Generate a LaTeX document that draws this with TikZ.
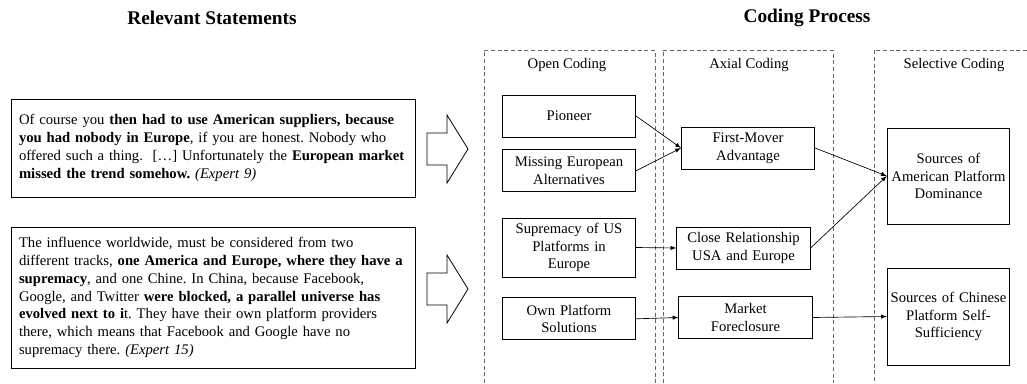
\documentclass[tikz,border=0pt]{standalone}
\usepackage{fontspec}
\setmainfont{Liberation Serif}
\usetikzlibrary{positioning}
\frenchspacing
\begin{document}
\begin{tikzpicture}[x=0.75pt,y=-0.75pt,node distance=9pt,every node/.style={inner sep=1pt,font=\fontsize{11}{13.35}\selectfont}]
\tikzstyle{link}=[draw,-latex,line width=0.5pt]
\tikzstyle{quote}=[draw,line width=0.6pt,text width=291pt,inner xsep=6pt,align=left]
\tikzstyle{code}=[draw,line width=0.6pt,text width=94pt,inner xsep=3pt,minimum height=31.5pt,align=center]
\tikzstyle{phase}=[draw=black!60,line width=0.6pt,dash pattern=on 3pt off 2pt]
\tikzstyle{head}=[font=\fontsize{14.5}{17}\selectfont\bfseries]
\useasboundingbox (0,0) rectangle (1027,383);

\node[head](t1) at (212,18){Relevant Statements};
\node[head](t2) at (807,18){Coding Process};

\draw[phase] (484,383) |- (655,50) -- (655,383);
\draw[phase] (663,383) |- (833,50) -- (833,383);
\draw[phase] (1027,50) -| (874,383);
\node(l1) at (567,65){Open Coding};
\node(l2) at (749,65){Axial Coding};
\node(l3) at (954,65){Selective Coding};

\node[quote,minimum height=73.5pt](q1) at (213,148){Of course you \textbf{then had to use American suppliers, because}\\\textbf{you had nobody in Europe}, if you are honest. Nobody who\\offered such a thing.\ \ […] Unfortunately the \textbf{European market}\\\textbf{missed the trend somehow.} \textit{(Expert 9)}};
\node[quote,minimum height=105.75pt](q2) at (213,297.5){The influence worldwide, must be considered from two\\different tracks, \textbf{one America and Europe, where they have a}\\\textbf{supremacy}, and one Chine. In China, because Facebook,\\Google, and Twitter \textbf{were blocked, a parallel universe has}\\\textbf{evolved next to i}t. They have their own platform providers\\there, which means that Facebook and Google have no\\supremacy there. \textit{(Expert 15)}};

\coordinate(b1) at (427,149);
\coordinate(b2) at (427,289);
\draw[line width=0.6pt] (b1) ++(0,-16) -- ++(20,0) -- ++(0,-18) -- ++(21,34) -- ++(-21,34) -- ++(0,-18) -- ++(-20,0) -- cycle;
\draw[line width=0.6pt] (b2) ++(0,-16) -- ++(20,0) -- ++(0,-18) -- ++(21,34) -- ++(-21,34) -- ++(0,-18) -- ++(-20,0) -- cycle;

\node[code](o1) at (569,116){Pioneer};
\node[code,below=9pt of o1](o2){Missing European\\Alternatives};
\node[code,minimum height=44.25pt](o3) at (569,247.5){Supremacy of US\\Platforms in\\Europe};
\node[code,below=15pt of o3](o4){Own Platform\\Solutions};

\node[code](a1) at (748,148){First-Mover\\Advantage};
\node[code](a2) at (743.5,248){Close Relationship\\USA and Europe};
\node[code](a3) at (745.5,317.5){Market\\Foreclosure};

\node[code,text width=92pt,inner xsep=0pt,minimum height=72pt](r1) at (948.5,176){Sources of\\American Platform\\Dominance};
\node[code,text width=92pt,inner xsep=0pt,minimum height=72.75pt](r2) at (948.5,316.5){Sources of Chinese\\Platform Self-\\Sufficiency};

\draw[link] (o1.east) -- (a1.west);
\draw[link] (o2.east) -- (a1.west);
\draw[link] (o3.east) -- (a2.west);
\draw[link] (o4.east) -- (a3.west);
\draw[link] (a1.east) -- (r1.west);
\draw[link] (a2.east) -- (r1.west);
\draw[link] (a3.east) -- (r2.west);
\end{tikzpicture}
\end{document}
